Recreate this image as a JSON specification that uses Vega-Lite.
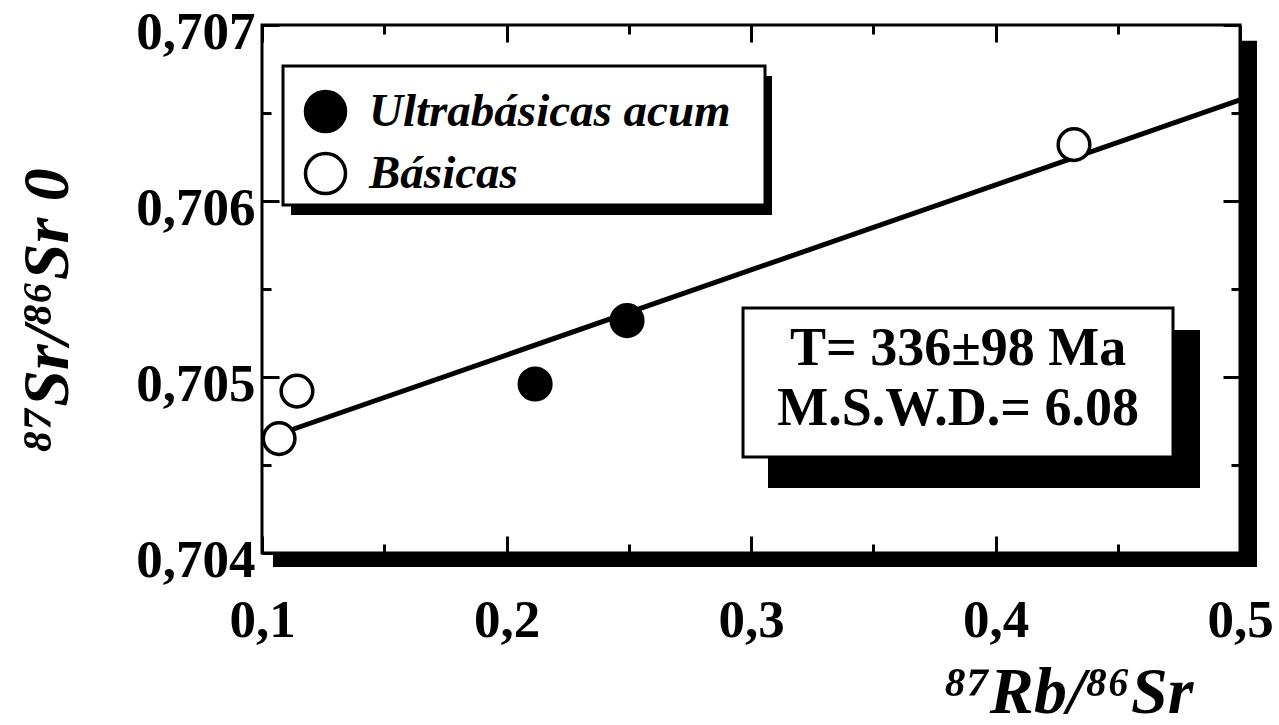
{
  "$schema": "https://vega.github.io/schema/vega-lite/v6.json",
  "width": 978,
  "height": 528,
  "autosize": {"type": "none"},
  "padding": {"left": 262, "top": 25, "right": 39, "bottom": 172},
  "background": "white",
  "config": {
    "view": {"stroke": "black", "strokeWidth": 3},
    "font": "Liberation Serif",
    "axis": {
      "domain": false,
      "grid": false,
      "tickColor": "black",
      "tickWidth": 3,
      "labelFont": "Liberation Serif",
      "labelFontWeight": "bold",
      "labelFontSize": 53,
      "labelColor": "black",
      "labelFlush": false,
      "labelOverlap": false,
      "titleFont": "Liberation Serif",
      "titleFontWeight": "bold",
      "titleFontStyle": "italic",
      "titleFontSize": 66,
      "titleColor": "black"
    },
    "legend": {
      "orient": "none",
      "legendX": 40,
      "legendY": 63,
      "padding": 0,
      "rowPadding": 7,
      "symbolType": "circle",
      "symbolSize": 1600,
      "symbolStrokeColor": "black",
      "symbolStrokeWidth": 3.5,
      "labelFont": "Liberation Serif",
      "labelFontWeight": "bold",
      "labelFontStyle": "italic",
      "labelFontSize": 47,
      "labelColor": "black",
      "labelOffset": 20,
      "labelLimit": 600
    }
  },
  "resolve": {"axis": {"x": "independent", "y": "independent"}},
  "layer": [
    {
      "data": {"values": [{}]},
      "mark": {"type": "rect", "color": "black"},
      "encoding": {
        "x": {"datum": 0.5, "type": "quantitative", "axis": null},
        "x2": {"datum": 0.50695},
        "y": {"datum": 0.70691, "type": "quantitative", "axis": null},
        "y2": {"datum": 0.70392}
      }
    },
    {
      "data": {"values": [{}]},
      "mark": {"type": "rect", "color": "black"},
      "encoding": {
        "x": {"datum": 0.1045, "type": "quantitative", "axis": null},
        "x2": {"datum": 0.50695},
        "y": {"datum": 0.704, "type": "quantitative", "axis": null},
        "y2": {"datum": 0.70392}
      }
    },
    {
      "data": {"values": [{"x": 0.1, "y": 0.704642}, {"x": 0.5, "y": 0.706574}]},
      "mark": {"type": "line", "color": "black", "strokeWidth": 5},
      "encoding": {
        "x": {
          "field": "x", "type": "quantitative",
          "scale": {"domain": [0.1, 0.5], "nice": false, "zero": false},
          "axis": {
            "orient": "top", "labels": false, "title": null,
            "values": [0.1, 0.15, 0.2, 0.25, 0.3, 0.35, 0.4, 0.45, 0.5],
            "tickSize": {"condition": {"test": "abs(datum.value*10 - round(datum.value*10)) < 0.001", "value": -17}, "value": -9}
          }
        },
        "y": {
          "field": "y", "type": "quantitative",
          "scale": {"domain": [0.704, 0.707], "nice": false, "zero": false},
          "axis": {
            "orient": "right", "labels": false, "title": null,
            "values": [0.704, 0.7045, 0.705, 0.7055, 0.706, 0.7065, 0.707],
            "tickSize": {"condition": {"test": "abs(datum.value*1000 - round(datum.value*1000)) < 0.001", "value": -17}, "value": -9}
          }
        }
      }
    },
    {
      "data": {
        "values": [
          {"x": 0.107, "y": 0.70465, "tipo": "Básicas"},
          {"x": 0.1143, "y": 0.70492, "tipo": "Básicas"},
          {"x": 0.2117, "y": 0.70496, "tipo": "Ultrabásicas acum"},
          {"x": 0.2493, "y": 0.70532, "tipo": "Ultrabásicas acum"},
          {"x": 0.4321, "y": 0.70632, "tipo": "Básicas"}
        ]
      },
      "mark": {"type": "circle", "size": 1000, "stroke": "black", "strokeWidth": 3.5, "opacity": 1},
      "encoding": {
        "x": {
          "field": "x", "type": "quantitative",
          "scale": {"domain": [0.1, 0.5], "nice": false, "zero": false},
          "axis": {
            "orient": "bottom",
            "title": "⁸⁷Rb/⁸⁶Sr",
            "titleX": 931, "titleY": 159, "titleAlign": "right", "titleBaseline": "alphabetic", "titleAnchor": null,
            "values": [0.1, 0.15, 0.2, 0.25, 0.3, 0.35, 0.4, 0.45, 0.5],
            "labelExpr": "abs(datum.value*10 - round(datum.value*10)) < 0.001 ? replace(format(datum.value, '.1f'), '.', ',') : ''",
            "labelPadding": 58,
            "tickSize": {"condition": {"test": "abs(datum.value*10 - round(datum.value*10)) < 0.001", "value": -17}, "value": -9}
          }
        },
        "y": {
          "field": "y", "type": "quantitative",
          "scale": {"domain": [0.704, 0.707], "nice": false, "zero": false},
          "axis": {
            "orient": "left",
            "title": "⁸⁷Sr/⁸⁶Sr 0",
            "titleX": -195, "titleY": 285, "titleAngle": 270, "titleAlign": "center", "titleBaseline": "alphabetic", "titleAnchor": null,
            "values": [0.704, 0.7045, 0.705, 0.7055, 0.706, 0.7065, 0.707],
            "labelExpr": "abs(datum.value*1000 - round(datum.value*1000)) < 0.001 ? replace(format(datum.value, '.3f'), '.', ',') : ''",
            "labelPadding": 24,
            "labelOffset": 7,
            "tickSize": {"condition": {"test": "abs(datum.value*1000 - round(datum.value*1000)) < 0.001", "value": -17}, "value": -9}
          }
        },
        "fill": {
          "field": "tipo", "type": "nominal",
          "scale": {"domain": ["Ultrabásicas acum", "Básicas"], "range": ["black", "white"]},
          "legend": {"title": null}
        }
      }
    },
    {
      "data": {"values": [{}]},
      "mark": {"type": "rect", "color": "black"},
      "encoding": {
        "x": {"datum": 0.11186, "type": "quantitative", "axis": null},
        "x2": {"datum": 0.30859},
        "y": {"datum": 0.70671, "type": "quantitative", "axis": null},
        "y2": {"datum": 0.70592}
      }
    },
    {
      "data": {"values": [{}]},
      "mark": {"type": "rect", "fill": "white", "stroke": "black", "strokeWidth": 3},
      "encoding": {
        "x": {"datum": 0.10859, "type": "quantitative", "axis": null},
        "x2": {"datum": 0.30573},
        "y": {"datum": 0.706767, "type": "quantitative", "axis": null},
        "y2": {"datum": 0.705977}
      }
    },
    {
      "data": {"values": [{}]},
      "mark": {"type": "rect", "color": "black"},
      "encoding": {
        "x": {"datum": 0.30695, "type": "quantitative", "axis": null},
        "x2": {"datum": 0.48364},
        "y": {"datum": 0.705267, "type": "quantitative", "axis": null},
        "y2": {"datum": 0.704369}
      }
    },
    {
      "data": {"values": [{}]},
      "mark": {"type": "rect", "fill": "white", "stroke": "black", "strokeWidth": 3},
      "encoding": {
        "x": {"datum": 0.29673, "type": "quantitative", "axis": null},
        "x2": {"datum": 0.4726},
        "y": {"datum": 0.705392, "type": "quantitative", "axis": null},
        "y2": {"datum": 0.704545}
      }
    },
    {
      "data": {"values": [{}]},
      "mark": {"type": "text", "font": "Liberation Serif", "fontWeight": "bold", "fontSize": 54, "align": "center", "baseline": "alphabetic", "color": "black"},
      "encoding": {
        "x": {"datum": 0.3847, "type": "quantitative", "axis": null},
        "y": {"datum": 0.705068, "type": "quantitative", "axis": null},
        "text": {"value": "T= 336±98 Ma"}
      }
    },
    {
      "data": {"values": [{}]},
      "mark": {"type": "text", "font": "Liberation Serif", "fontWeight": "bold", "fontSize": 54, "align": "center", "baseline": "alphabetic", "color": "black"},
      "encoding": {
        "x": {"datum": 0.3847, "type": "quantitative", "axis": null},
        "y": {"datum": 0.704727, "type": "quantitative", "axis": null},
        "text": {"value": "M.S.W.D.= 6.08"}
      }
    }
  ]
}
